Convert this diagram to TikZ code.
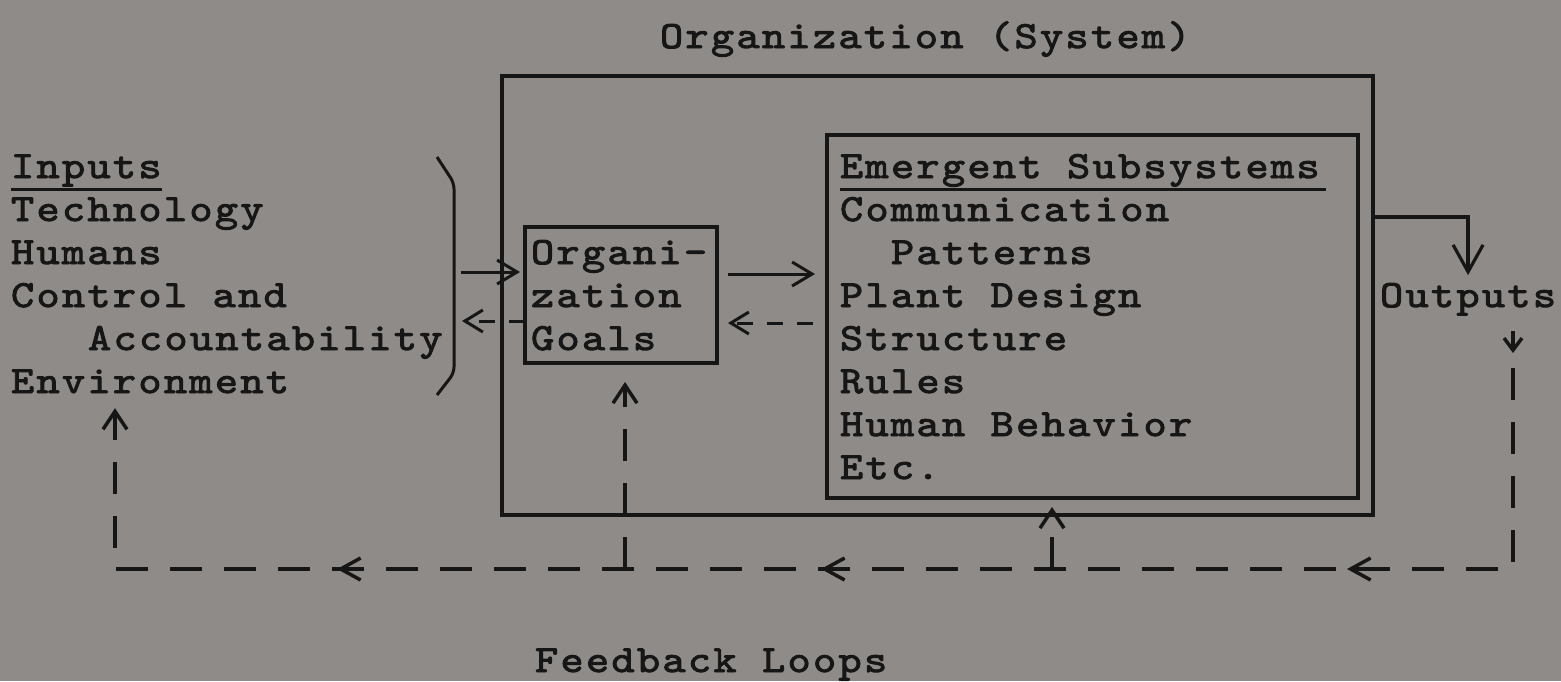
\documentclass[tikz,border=0pt]{standalone}
\usepackage{fontspec}
\newfontfamily\tw{lmmono10-regular}[Extension=.otf, FakeStretch=1.15, LetterSpace=6, FakeBold=2.4]
\usetikzlibrary{arrows.meta, decorations.markings, calc}
\definecolor{paper}{RGB}{143,139,136}
\definecolor{ink}{RGB}{22,22,22}

\begin{document}
\begin{tikzpicture}[x=0.5pt, y=-0.5pt,
  txt/.style={anchor=base west, inner sep=0pt, outer sep=0pt,
    font=\tw\fontsize{19.2}{22}\selectfont, text=ink},
  box/.style={draw=ink, line width=1.75pt, inner sep=0pt, outer sep=0pt},
  uline/.style={draw=ink, line width=1.5pt},
  arr/.style={draw=ink, line width=1.5pt, -{Straight Barb[length=10pt, width=12pt]}},
  bigarr/.style={draw=ink, line width=1.6pt, -{Straight Barb[length=13.5pt, width=15pt]}},
  darr/.style={draw=ink, line width=1.5pt, dash pattern=on 8pt off 7pt,
    -{Straight Barb[length=9pt, width=11pt]}},
  fb/.style={draw=ink, line width=1.75pt, dash pattern=on 16pt off 11pt},
  uphead/.style={-{Straight Barb[length=9pt, width=12pt]}},
  fbmark/.style={ink, solid, line width=1.75pt, -{Straight Barb[length=10pt, width=11pt]}},
]
% page
\fill[paper] (0,0) rectangle (1561,681);
\useasboundingbox (0,0) rectangle (1561,681);

% title and boxes
\node[txt] (title) at (660,48) {Organization (System)};
\node[box, minimum width=435.5pt, minimum height=219.5pt] (org) at (937.5,295.5) {};
\node[box, minimum width=265.5pt, minimum height=181.5pt] (emer) at (1092.5,316.5) {};
\node[box, minimum width=96pt, minimum height=68pt] (goals) at (621,295) {};

% inputs list
\node[txt] (inputs) at (11,178) {Inputs};
\node[txt] (tech) at (11,221) {Technology};
\node[txt] (humans) at (11,264) {Humans};
\node[txt] (ctrl) at (11,307) {Control and};
\node[txt] (acct) at (88,350) {Accountability};
\node[txt] (env) at (11,393) {Environment};
\draw[uline] ([yshift=-5.5pt]inputs.base west) -- ([yshift=-5.5pt]inputs.base east);

% bracket closing the inputs
\coordinate (brkM) at (454,272);
\draw[draw=ink, line width=1.5pt, rounded corners=3pt]
  (437,157) -- (454,183) -- (454,373) -- (437,395);

% organization goals
\node[txt] (g1) at (531,264) {Organi-};
\node[txt] (g2) at (531,307) {zation};
\node[txt] (g3) at (531,350) {Goals};

% emergent subsystems
\node[txt] (e0) at (840,178) {Emergent Subsystems};
\draw[uline] ([yshift=-5.5pt]e0.base west) -- ([yshift=-5.5pt,xshift=3pt]e0.base east);
\node[txt] (e1) at (840,221) {Communication};
\node[txt] (e2) at (891,264) {Patterns};
\node[txt] (e3) at (840,307) {Plant Design};
\node[txt] (e4) at (840,350) {Structure};
\node[txt] (e5) at (840,393) {Rules};
\node[txt] (e6) at (840,436) {Human Behavior};
\node[txt] (e7) at (840,479) {Etc.};

% outputs and feedback caption
\node[txt] (out) at (1380,307) {Outputs};
\node[txt] (fbl) at (535,672) {Feedback Loops};

% forward flow
\coordinate (yG) at (0,274);
\coordinate (yE) at (0,323);
\coordinate (yB) at (0,321);
\coordinate (yO) at (0,217);
\draw[arr, shorten <=3.5pt, shorten >=2.5pt] (brkM) -- (brkM -| goals.west);
\draw[arr, shorten <=5.5pt, shorten >=6pt] (goals.east |- yG) -- (emer.west |- yG);
\draw[darr, shorten <=7pt, shorten >=5.5pt] (emer.west |- yE) -- (goals.east |- yE);
\draw[darr, shorten >=4pt] (goals.west |- yB) -- (brkM |- yB);
\draw[bigarr, shorten >=4pt] (org.east |- yO) -| (out.north);

% feedback loops
\coordinate (fbTop) at (1513,368);
\coordinate (fbR) at (1513,569);
\coordinate (fbL) at (115,569);
\coordinate (j1) at (625,569);
\coordinate (j2) at (1052,569);
\draw[draw=ink, line width=1.75pt, -{Straight Barb[length=6pt, width=9pt]}]
  (1513,331) -- (1513,353);
\draw[fb, uphead, shorten >=7.5pt,
  postaction={decorate},
  decoration={markings,
    mark=at position 191pt with {\draw[fbmark] (-14pt,0pt) -- (0pt,0pt);},
    mark=at position 454pt with {\draw[fbmark] (-14pt,0pt) -- (0pt,0pt);},
    mark=at position 696pt with {\draw[fbmark] (-14pt,0pt) -- (0pt,0pt);}}]
  (fbTop) -- (fbR) -- (fbL) -- (fbL |- env.south);
\draw[fb, uphead, shorten >=9.5pt] (j1) -- (j1 |- goals.south);
\draw[fb, uphead, shorten >=-4pt] (j2) -- (j2 |- org.south);
\end{tikzpicture}
\end{document}
